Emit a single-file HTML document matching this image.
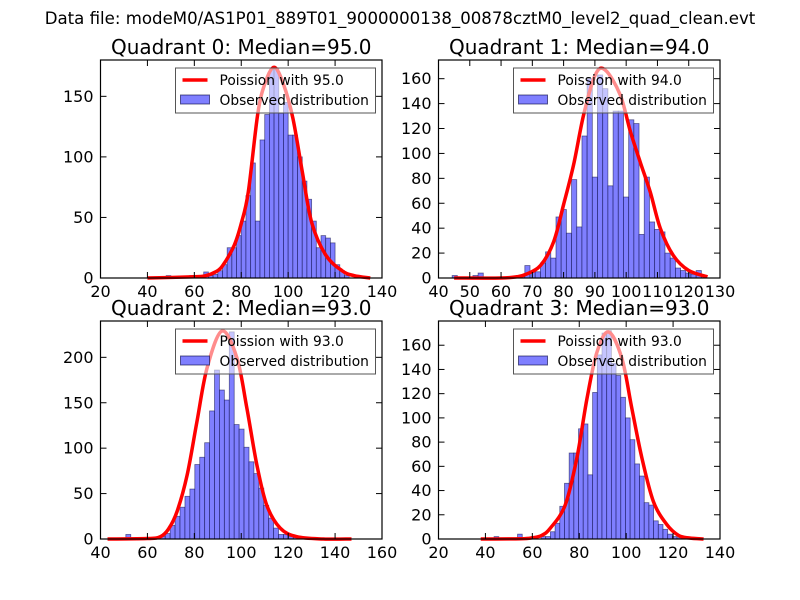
<!DOCTYPE html>
<html><head><meta charset="utf-8"><style>
body{margin:0;background:#fff;}
svg{display:block;font-family:"DejaVu Sans","Liberation Sans",sans-serif;}
</style></head><body>
<svg id="fig" width="800" height="600" viewBox="0 0 800 600" xmlns="http://www.w3.org/2000/svg">
<rect width="800" height="600" fill="#fff"/>
<text x="400" y="24" text-anchor="middle" font-size="16.6">Data file: modeM0/AS1P01_889T01_9000000138_00878cztM0_level2_quad_clean.evt</text>
</svg>
<script>
// ---- Quadrant 0 ----
const q0Median = 95.0;
const q0BinStart = 48;
const q0BinWidth = 2;
const q0Counts = [2,0,0,0,0,2,0,0,5,2,3,6,11,25,25,35,47,68,95,47,114,135,172,173,136,145,118,118,100,80,65,47,25,35,33,29,11,6,2];
const q0CurveX = [40,60,65,69,72,77,80,83,87,90,94,98,102,106,110,116,123,128,135];
const q0CurveY = [0,1,2,5,10,27,45,71,135,160,174,160,132,88,46,19,6,2,0];
const q0XTicks = [20,40,60,80,100,120,140];
const q0YTicks = [0,50,100,150];
// ---- Quadrant 1 ----
const q1Median = 94.0;
const q1BinStart = 44.36;
const q1BinWidth = 1.66;
const q1Counts = [2,0,0,0,2,4,0,0,0,0,0,0,1,1,10,5,5,12,21,16,49,55,36,79,41,114,160,81,163,152,74,134,134,65,127,124,35,81,45,39,37,20,16,8,6,4,3,6,2];
const q1CurveX = [45,60,65,68,72.6,76.8,80,83.2,86.4,90.1,93.3,98.1,101.3,104.5,107.7,110.9,115.1,120,126];
const q1CurveY = [0,0,1,3,10,29,59,91,131,163,167,147,118,93,69,40,18,6,1];
const q1XTicks = [40,50,60,70,80,90,100,110,120,130];
const q1YTicks = [0,20,40,60,80,100,120,140,160];
// ---- Quadrant 2 ----
const q2Median = 93.0;
const q2BinStart = 50.8;
const q2BinWidth = 2.1;
const q2Counts = [5,0,0,0,1,1,2,3,6,15,25,35,47,55,82,90,106,141,186,164,153,228,126,121,101,85,72,56,37,23,12,5,5,3,2,1];
const q2CurveX = [43,60,65.5,69,72.6,76.9,81.1,85.4,91.8,98.2,102.4,106.7,110.9,116.6,123.7,135,147];
const q2CurveY = [0,0.5,2.5,11,30,70,129,188,229,199,144,81,37,12,2.5,0,0];
const q2XTicks = [40,60,80,100,120,140,160];
const q2YTicks = [0,50,100,150,200];
// ---- Quadrant 3 ----
const q3Median = 93.0;
const q3BinStart = 43.7;
const q3BinWidth = 2;
const q3Counts = [2,0,0,0,0,4,0,0,0,0,2,2,6,13,27,46,71,71,91,95,53,121,152,170,172,145,135,117,100,82,62,52,30,28,15,12,8,4,2,1];
const q3CurveX = [38,55,60,64,67.7,74,79,83.3,87.5,92.5,98.2,102.4,106.7,111.6,117.3,122.3,127,133];
const q3CurveY = [0,0.2,1,3,9,28,67,116,154,171,149,108,67,31,12,3,0.8,0];
const q3XTicks = [20,40,60,80,100,120,140];
const q3YTicks = [0,20,40,60,80,100,120,140,160];

const NS = "http://www.w3.org/2000/svg";
const fig = document.getElementById('fig');
function mk(tag, attrs, parent){
  const e = document.createElementNS(NS, tag);
  for (const k in attrs) e.setAttribute(k, attrs[k]);
  (parent||fig).appendChild(e);
  return e;
}
function smoothPath(p){
  let d = 'M' + p[0][0].toFixed(2) + ',' + p[0][1].toFixed(2);
  for (let i = 0; i < p.length - 1; i++){
    const p0 = p[Math.max(0,i-1)], p1 = p[i], p2 = p[i+1], p3 = p[Math.min(p.length-1,i+2)];
    const c1x = p1[0] + (p2[0]-p0[0])/6, c1y = p1[1] + (p2[1]-p0[1])/6;
    const c2x = p2[0] - (p3[0]-p1[0])/6, c2y = p2[1] - (p3[1]-p1[1])/6;
    d += ' C' + c1x.toFixed(2)+','+c1y.toFixed(2)+' '+c2x.toFixed(2)+','+c2y.toFixed(2)+' '+p2[0].toFixed(2)+','+p2[1].toFixed(2);
  }
  return d;
}

function panel(idx, box, xmin, xmax, ymax, median, binStart, binWidth, counts, cx, cy, xticks, yticks){
  const g = mk('g', {});
  
  
  const X = v => box.x0 + (v - xmin) / (xmax - xmin) * (box.x1 - box.x0);
  const Y = v => box.y1 - v / ymax * (box.y1 - box.y0);
  const t = mk('text', {x:(box.x0+box.x1)/2, y:box.y0-6, 'text-anchor':'middle', 'font-size':'20'}, g);
  t.textContent = 'Quadrant ' + idx + ': Median=' + median.toFixed(1);
  
  
  const bg = mk('g', {}, g);
  
  
  counts.forEach((c, i) => {
    const l = binStart + i * binWidth;
    const x0 = X(l), x1 = X(l + binWidth);
    const r = mk('rect', {x:x0, y:Y(c), width:x1-x0, height:Y(0)-Y(c), fill:'rgb(127,127,255)', stroke:'rgba(0,0,60,0.55)', 'stroke-width':'0.8'}, bg);
    
    
  });
  const pts = cx.map((v, i) => [X(v), Y(cy[i])]);
  const pl = mk('path', {d:smoothPath(pts), fill:'none', stroke:'#ff0000', 'stroke-width':'3.5', 'stroke-linejoin':'round'}, g);
  
  
  const fr = mk('rect', {x:box.x0, y:box.y0, width:box.x1-box.x0, height:box.y1-box.y0, fill:'none', stroke:'#000', 'stroke-width':'1.2'}, g);
  
  
  xticks.forEach(v => {
    const x = X(v);
    mk('line', {x1:x, x2:x, y1:box.y1, y2:box.y1-6, stroke:'#000'}, g);
    mk('line', {x1:x, x2:x, y1:box.y0, y2:box.y0+6, stroke:'#000'}, g);
    const tl = mk('text', {x:x, y:box.y1+19, 'text-anchor':'middle', 'font-size':'16'}, g);
    tl.textContent = v;
    
    
  });
  yticks.forEach(v => {
    const y = Y(v);
    mk('line', {x1:box.x0, x2:box.x0+6, y1:y, y2:y, stroke:'#000'}, g);
    mk('line', {x1:box.x1, x2:box.x1-6, y1:y, y2:y, stroke:'#000'}, g);
    const tl = mk('text', {x:box.x0-7, y:y+5.5, 'text-anchor':'end', 'font-size':'16'}, g);
    tl.textContent = v;
    
    
  });
  const lg = mk('g', {}, g);
  
  
  const lx = box.x0 + 75, ly = box.y0 + 8;
  mk('rect', {x:lx, y:ly, width:200, height:45, fill:'rgba(255,255,255,0.55)', stroke:'#555', 'stroke-width':'1'}, lg);
  const ln = mk('line', {x1:lx+7, x2:lx+32, y1:ly+12, y2:ly+12, stroke:'#ff0000', 'stroke-width':'3.5'}, lg);
  
  
  const t1 = mk('text', {x:lx+44, y:ly+17, 'font-size':'13.8'}, lg);
  t1.textContent = 'Poission with ' + median.toFixed(1);
  
  
  const sw = mk('rect', {x:lx+5, y:ly+27, width:29, height:9, fill:'rgb(127,127,255)', stroke:'rgba(0,0,60,0.6)'}, lg);
  
  
  const t2 = mk('text', {x:lx+44, y:ly+37, 'font-size':'13.8'}, lg);
  t2.textContent = 'Observed distribution';
  
  
}

panel(0, {x0:100.5, x1:382, y0:60, y1:278}, 20, 140, 180, q0Median, q0BinStart, q0BinWidth, q0Counts, q0CurveX, q0CurveY, q0XTicks, q0YTicks);
panel(1, {x0:438.5, x1:720, y0:60, y1:278}, 40, 130, 175, q1Median, q1BinStart, q1BinWidth, q1Counts, q1CurveX, q1CurveY, q1XTicks, q1YTicks);
panel(2, {x0:100.5, x1:382, y0:321, y1:539}, 40, 160, 240, q2Median, q2BinStart, q2BinWidth, q2Counts, q2CurveX, q2CurveY, q2XTicks, q2YTicks);
panel(3, {x0:438.5, x1:720, y0:321, y1:539}, 20, 140, 180, q3Median, q3BinStart, q3BinWidth, q3Counts, q3CurveX, q3CurveY, q3XTicks, q3YTicks);
</script>
</body></html>
